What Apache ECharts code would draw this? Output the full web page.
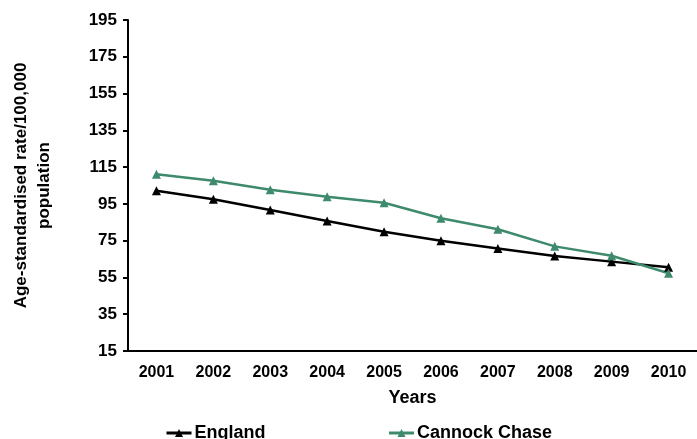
<!DOCTYPE html>
<html><head><meta charset="utf-8">
<script src="https://cdn.jsdelivr.net/npm/echarts@6/dist/echarts.min.js"></script>
<style>html,body{margin:0;padding:0;background:#fff}#c{width:697px;height:439px}</style>
</head><body><div id="c"></div>
<script>
const years = ['2001','2002','2003','2004','2005','2006','2007','2008','2009','2010'];
const england = [102.2, 97.5, 91.7, 85.7, 79.9, 75.0, 70.8, 66.7, 63.6, 60.5];
const cannock = [111.1, 107.6, 102.7, 98.9, 95.6, 87.2, 81.2, 71.9, 66.8, 57.3];
const yTicks = [15, 35, 55, 75, 95, 115, 135, 155, 175, 195];

const font = 'Liberation Sans, Arial, sans-serif';
const chart = echarts.init(document.getElementById('c'));
chart.setOption({
  animation: false,
  textStyle: {fontFamily: font},
  grid: {left: 128, top: 20, right: 0, bottom: 88},
  legend: {
    top: 424, left: 165, padding: 0, itemGap: 122, itemWidth: 25, itemHeight: 10,
    lineStyle: {width: 3},
    textStyle: {fontFamily: font, fontWeight: 'bold', fontSize: 18, color: '#000', padding: [0,0,0,-2]},
    data: ['England', 'Cannock Chase']
  },
  xAxis: {
    type: 'category', data: years, boundaryGap: true,
    name: 'Years', nameLocation: 'middle', nameGap: 38,
    nameTextStyle: {fontFamily: font, fontWeight: 'bold', fontSize: 18, color: '#000'},
    axisLine: {lineStyle: {color: '#000', width: 2}},
    axisTick: {length: 5, lineStyle: {color: '#000', width: 2}},
    axisLabel: {fontFamily: font, fontWeight: 'bold', fontSize: 16, color: '#000', margin: 14}
  },
  yAxis: {
    type: 'value', min: yTicks[0], max: yTicks[yTicks.length-1], interval: 20,
    name: 'Age-standardised rate/100,000\npopulation', nameLocation: 'middle', nameGap: 72, nameRotate: 90,
    nameTextStyle: {fontFamily: font, fontWeight: 'bold', fontSize: 17, color: '#000', lineHeight: 23},
    axisLine: {show: true, lineStyle: {color: '#000', width: 2}},
    axisTick: {show: true, length: 5, lineStyle: {color: '#000', width: 2}},
    splitLine: {show: false},
    axisLabel: {fontFamily: font, fontWeight: 'bold', fontSize: 17, color: '#000', margin: 11}
  },
  series: [
    {name: 'England', type: 'line', data: england, symbol: 'triangle', symbolSize: 9,
     lineStyle: {color: '#000', width: 2.5}, itemStyle: {color: '#000'}},
    {name: 'Cannock Chase', type: 'line', data: cannock, symbol: 'triangle', symbolSize: 9,
     lineStyle: {color: '#3e8a6c', width: 2.5}, itemStyle: {color: '#3e8a6c'}}
  ]
});
</script></body></html>
